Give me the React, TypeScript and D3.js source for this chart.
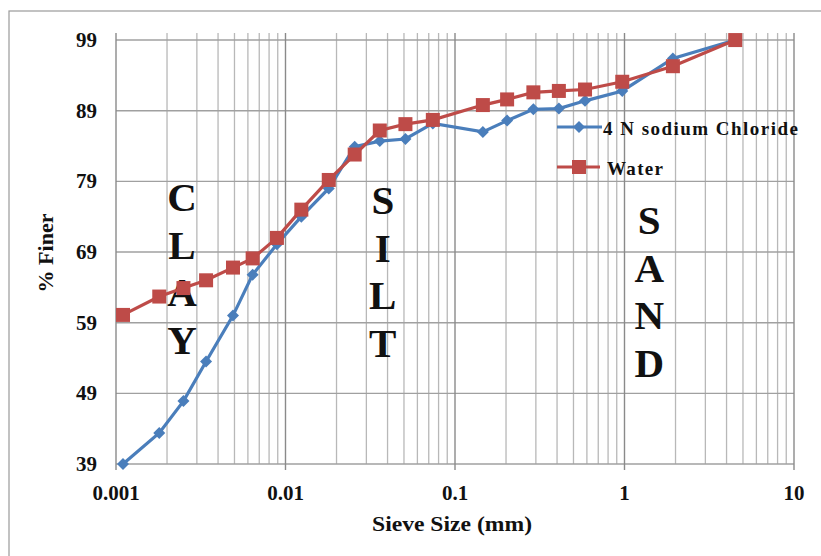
import React from "react";
import * as d3 from "d3";

// Grain size distribution: % finer vs sieve size, two dispersants.
const sizes = [
  0.0011, 0.0018, 0.0025, 0.0034, 0.0049, 0.0064, 0.0089, 0.0124, 0.018, 0.0256, 0.036,
  0.051, 0.074, 0.146, 0.203, 0.29, 0.41, 0.585, 0.97, 1.93, 4.5,
];
const sodiumChloride = [
  39, 43.4, 47.9, 53.5, 60.0, 65.8, 70.1, 74.0, 78.0, 83.9, 84.7, 85.0, 87.2, 86.0, 87.6,
  89.2, 89.3, 90.4, 91.8, 96.4, 99.0,
];
const water = [
  60.1, 62.7, 63.9, 65.0, 66.8, 68.1, 71.0, 75.0, 79.2, 82.8, 86.2, 87.1, 87.7, 89.8, 90.6,
  91.6, 91.8, 92.0, 93.1, 95.3, 99.0,
];
const yTicks = [39, 49, 59, 69, 79, 89, 99];
const xTicks = [0.001, 0.01, 0.1, 1, 10];
const xTickLabels = ["0.001", "0.01", "0.1", "1", "10"];
const regions = [
  { label: "CLAY", x: 0.00245, top: 197 },
  { label: "SILT", x: 0.0375, top: 200 },
  { label: "SAND", x: 1.4, top: 220 },
];

const W = 821;
const H = 556;
const FONT = "'Liberation Serif', 'Times New Roman', serif";
const BLUE = "#4a7ebb";
const RED = "#be4b48";

export default function App() {
  const x = d3.scaleLog().domain([0.001, 10]).range([116, 794]);
  const y = d3.scaleLinear().domain([39, 100]).range([464, 33]);
  const [top, bottom] = [y(100), y(39)];

  const minor: number[] = [];
  for (let e = -3; e < 1; e++) {
    for (let m = 2; m <= 9; m++) minor.push(m * Math.pow(10, e));
  }

  const line = d3
    .line<number>()
    .x((_, i) => x(sizes[i]))
    .y((d) => y(d));

  const diamond = (cx: number, cy: number, r = 6) =>
    `M${cx},${cy - r}L${cx + r},${cy}L${cx},${cy + r}L${cx - r},${cy}Z`;

  return (
    <svg
      width={W}
      height={H}
      style={{ position: "absolute", left: 0, top: 0, background: "#fff" }}
      fontFamily={FONT}
    >
      <rect x={9} y={11} width={W + 10} height={H + 10} fill="#fff" stroke="#9a9a9a" strokeWidth={1.2} />

      {/* grid */}
      {minor.map((v) => (
        <line key={"m" + v} x1={x(v)} x2={x(v)} y1={top} y2={bottom} stroke="#b8b8b8" strokeWidth={1.3} />
      ))}
      {yTicks.map((v) => (
        <line key={"h" + v} x1={x(0.001)} x2={x(10)} y1={y(v)} y2={y(v)} stroke="#a0a0a0" strokeWidth={1.4} />
      ))}
      {xTicks.map((v) => (
        <line key={"M" + v} x1={x(v)} x2={x(v)} y1={top} y2={bottom + 6} stroke="#8a8a8a" strokeWidth={1.4} />
      ))}

      {/* region labels */}
      {regions.map((r) =>
        r.label.split("").map((ch, i) => (
          <text
            key={r.label + i}
            x={x(r.x)}
            y={r.top + i * 47.5}
            textAnchor="middle"
            dominantBaseline="central"
            fontSize={41}
            fontWeight="bold"
            fill="#111"
          >
            {ch}
          </text>
        ))
      )}

      {/* series */}
      <path d={line(sodiumChloride) || ""} fill="none" stroke={BLUE} strokeWidth={3.2} />
      {sodiumChloride.map((v, i) => (
        <path key={"b" + i} d={diamond(x(sizes[i]), y(v))} fill={BLUE} />
      ))}
      <path d={line(water) || ""} fill="none" stroke={RED} strokeWidth={3.2} />
      {water.map((v, i) => (
        <rect key={"r" + i} x={x(sizes[i]) - 7} y={y(v) - 7} width={14} height={14} fill={RED} />
      ))}

      {/* axes labels */}
      {yTicks.map((v) => (
        <text key={"yl" + v} x={97} y={y(v)} textAnchor="end" dominantBaseline="central" fontSize={21} fontWeight="bold" fill="#111">
          {v}
        </text>
      ))}
      {xTicks.map((v, i) => (
        <text key={"xl" + v} x={x(v)} y={493} textAnchor="middle" dominantBaseline="central" fontSize={21} fontWeight="bold" fill="#111">
          {xTickLabels[i]}
        </text>
      ))}
      <text x={452} y={523} textAnchor="middle" dominantBaseline="central" fontSize={22} fontWeight="bold" fill="#111" textLength={160} lengthAdjust="spacingAndGlyphs">
        Sieve Size (mm)
      </text>
      <text
        transform="translate(45,253) rotate(-90)"
        textAnchor="middle"
        dominantBaseline="central"
        fontSize={22}
        fontWeight="bold"
        fill="#111"
      >
        % Finer
      </text>

      {/* legend */}
      <line x1={557} x2={602} y1={127} y2={127} stroke={BLUE} strokeWidth={3.2} />
      <path d={diamond(579, 127)} fill={BLUE} />
      <text x={603} y={128} dominantBaseline="central" fontSize={19} fontWeight="bold" fill="#111" textLength={195} lengthAdjust="spacing">
        4 N sodium Chloride
      </text>
      <line x1={557} x2={600} y1={167} y2={167} stroke={RED} strokeWidth={3.2} />
      <rect x={572} y={160} width={14} height={14} fill={RED} />
      <text x={607} y={168} dominantBaseline="central" fontSize={19} fontWeight="bold" fill="#111" textLength={56} lengthAdjust="spacing">
        Water
      </text>
    </svg>
  );
}
